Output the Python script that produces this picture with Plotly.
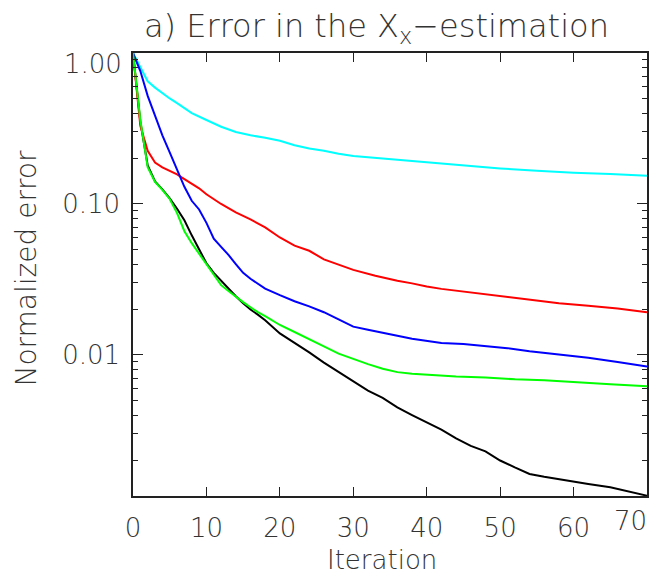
import plotly.graph_objects as go

x_cyan = [0, 1, 2, 3, 4, 5, 6, 7, 8, 10, 12, 14, 16, 18, 20, 22, 24, 26, 28, 30, 33, 36, 40, 43, 46, 50, 55, 60, 65, 70]
y_cyan = [1.0, 0.8, 0.65, 0.59, 0.54, 0.5, 0.465, 0.43, 0.4, 0.36, 0.325, 0.3, 0.285, 0.275, 0.262, 0.245, 0.233, 0.225, 0.215, 0.208, 0.202, 0.196, 0.188, 0.183, 0.178, 0.172, 0.166, 0.161, 0.158, 0.154]

x_red = [0, 1, 2, 3, 4, 5, 6, 7, 8, 9, 10, 12, 14, 16, 18, 20, 22, 24, 26, 28, 30, 33, 36, 38, 40, 42, 45, 48, 51, 54, 58, 62, 66, 70]
y_red = [1.0, 0.33, 0.225, 0.188, 0.175, 0.165, 0.157, 0.146, 0.137, 0.127, 0.116, 0.1, 0.088, 0.079, 0.07, 0.06, 0.053, 0.049, 0.043, 0.0395, 0.0366, 0.0335, 0.031, 0.0298, 0.0284, 0.0274, 0.0263, 0.0253, 0.0243, 0.0235, 0.022, 0.0212, 0.0203, 0.0192]

x_blue = [0, 1, 2, 3, 4, 5, 6, 7, 8, 9, 10, 11, 12, 13, 14, 15, 16, 17, 18, 20, 22, 24, 26, 28, 30, 32, 34, 36, 38, 40, 42, 45, 48, 51, 54, 58, 62, 66, 70]
y_blue = [1.0, 0.76, 0.52, 0.38, 0.285, 0.22, 0.17, 0.13, 0.105, 0.092, 0.075, 0.059, 0.052, 0.046, 0.04, 0.035, 0.032, 0.0295, 0.0275, 0.0249, 0.0227, 0.021, 0.0192, 0.0172, 0.0154, 0.0147, 0.0141, 0.0134, 0.0128, 0.0124, 0.012, 0.0118, 0.0115, 0.0111, 0.0106, 0.0101, 0.0096, 0.009, 0.0084]

x_black = [0, 1, 2, 3, 4, 5, 6, 7, 8, 9, 10, 11, 12, 13, 14, 15, 16, 17, 18, 20, 22, 24, 26, 28, 30, 32, 34, 36, 38, 40, 42, 44, 46, 48, 50, 52, 54, 56, 58, 60, 62, 65, 68, 70]
y_black = [1.0, 0.35, 0.18, 0.141, 0.125, 0.109, 0.093, 0.078, 0.062, 0.05, 0.0405, 0.035, 0.031, 0.0275, 0.0245, 0.022, 0.02, 0.0185, 0.017, 0.0139, 0.0121, 0.0104, 0.0089, 0.0077, 0.0067, 0.0058, 0.0052, 0.0045, 0.004, 0.0036, 0.0032, 0.0028, 0.0025, 0.0023, 0.002, 0.0018, 0.00163, 0.00156, 0.0015, 0.00145, 0.0014, 0.00133, 0.00124, 0.00117]

x_green = [0, 1, 2, 3, 4, 5, 6, 7, 8, 9, 10, 11, 12, 13, 14, 15, 16, 17, 18, 20, 22, 24, 26, 28, 30, 32, 34, 36, 38, 40, 44, 48, 52, 56, 60, 65, 70]
y_green = [1.0, 0.36, 0.175, 0.14, 0.124, 0.108, 0.087, 0.066, 0.055, 0.047, 0.04, 0.034, 0.029, 0.0265, 0.0242, 0.0224, 0.0207, 0.0192, 0.0181, 0.0158, 0.0142, 0.0128, 0.0114, 0.0102, 0.0094, 0.0087, 0.0081, 0.0077, 0.0075, 0.0074, 0.0072, 0.0071, 0.0069, 0.0068, 0.0066, 0.0064, 0.0062]

x_ticks = [0, 10, 20, 30, 40, 50, 60, 70]
x_ticktext = ["0", "10", "20", "30", "40", "50", "60", ""]
x_last_label = "70"
y_ticks = [0.01, 0.1, 1.0]
y_ticktext = ["0.01", "0.10", ""]
y_top_label = "1.00"
y_minor = [0.002, 0.003, 0.004, 0.005, 0.006, 0.007, 0.008, 0.009,
           0.02, 0.03, 0.04, 0.05, 0.06, 0.07, 0.08, 0.09,
           0.2, 0.3, 0.4, 0.5, 0.6, 0.7, 0.8, 0.9]

FONT = "DejaVu Sans"
W = 200
TXT = "#333333"

fig = go.Figure()
series = [
    (x_black, y_black, "black"),
    (x_cyan, y_cyan, "#00FFFF"),
    (x_red, y_red, "#FF0000"),
    (x_blue, y_blue, "#0000FF"),
    (x_green, y_green, "#00FF00"),
]
for xs, ys, c in series:
    fig.add_trace(go.Scatter(x=xs, y=ys, mode="lines", line=dict(color=c, width=2), showlegend=False))

# page body has an 8px default margin, so the figure is 8px smaller and margins compensate
fig.update_layout(
    width=658, height=572,
    margin=dict(l=125, r=19, t=45, b=84, autoexpand=False),
    paper_bgcolor="white", plot_bgcolor="white",
    font=dict(family=FONT, size=26, color=TXT, weight=W),
    showlegend=False,
)
fig.update_xaxes(
    range=[0, 70], tickvals=x_ticks, ticktext=x_ticktext, ticks="inside", ticklen=9, tickwidth=1.2, tickcolor="#222",
    showline=True, linecolor="#222", linewidth=1.5, mirror="ticks", showgrid=False, zeroline=False,
    tickfont=dict(family=FONT, size=26, color=TXT, weight=W), ticklabelstandoff=8, automargin=False,
)
fig.update_yaxes(
    type="log", range=[-2.934, 0], tickvals=y_ticks, ticktext=y_ticktext,
    ticks="inside", ticklen=10, tickwidth=1.2, tickcolor="#222",
    minor=dict(tickvals=y_minor, ticks="inside", ticklen=5, tickcolor="#222", showgrid=False),
    showline=True, linecolor="#222", linewidth=1.5, mirror="ticks", showgrid=False, zeroline=False,
    tickfont=dict(family=FONT, size=26, color=TXT, weight=W), ticklabelstandoff=6, automargin=False,
)
fig.add_annotation(text=y_top_label, xref="paper", yref="paper", x=0, xshift=-9, y=1, yshift=6,
                   xanchor="right", yanchor="top", showarrow=False,
                   font=dict(family=FONT, size=26, color=TXT, weight=W))
fig.add_annotation(text=x_last_label, xref="paper", yref="paper", x=1, xshift=2, y=0, yshift=-8,
                   xanchor="right", yanchor="top", showarrow=False,
                   font=dict(family=FONT, size=26, color=TXT, weight=W))
fig.add_annotation(text="a) Error in the X<sub>x</sub>\u2212estimation", xref="paper", yref="paper",
                   x=(376 - 133) / 514, y=1.0, yshift=2, xanchor="center", yanchor="bottom", showarrow=False,
                   font=dict(family=FONT, size=32, color=TXT, weight=W))
fig.add_annotation(text="Iteration", xref="paper", yref="paper", x=(382 - 133) / 514, y=0, yshift=-47,
                   xanchor="center", yanchor="top", showarrow=False,
                   font=dict(family=FONT, size=26, color=TXT, weight=W))
fig.add_annotation(text="Normalized error", xref="paper", yref="paper", x=0, xshift=-89,
                   y=(496 - 269) / 443, xanchor="right", yanchor="middle", textangle=-90, showarrow=False,
                   font=dict(family=FONT, size=28, color=TXT, weight=W))
fig.write_html("out.html")
